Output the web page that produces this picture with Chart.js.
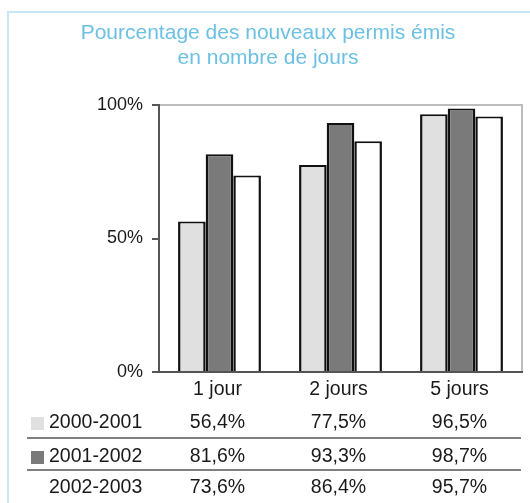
<!DOCTYPE html>
<html>
<head>
<meta charset="utf-8">
<script src="https://cdn.jsdelivr.net/npm/chart.js@4"></script>
<style>
    body { margin: 0; background: #fff; }
    canvas { display: block; }
</style>
</head>
<body>
<canvas id="chart" width="530" height="503"></canvas>
<script>
const titleLines = ['Pourcentage des nouveaux permis émis', 'en nombre de jours'];
const categories = ['1 jour', '2 jours', '5 jours'];
const periods = ['2000-2001', '2001-2002', '2002-2003'];
const values2000 = [56.4, 77.5, 96.5];
const values2001 = [81.6, 93.3, 98.7];
const values2002 = [73.6, 86.4, 95.7];
const yTicks = [0, 50, 100];

const fontFamily = '"Liberation Sans", Arial, sans-serif';
const colors = ['#e0e0e0', '#7a7a7a', '#ffffff'];
const rowY = [423, 457, 488];

function fmt(v) {
    return v.toFixed(1).replace('.', ',') + '%';
}

// title, outer frame, light top/right plot border, and the data table under the axis
const extras = {
    id: 'extras',
    beforeDraw(chart) {
        const ctx = chart.ctx;
        const area = chart.chartArea;
        ctx.save();
        ctx.strokeStyle = '#c8e6f5';
        ctx.lineWidth = 2;
        ctx.strokeRect(8, 12, 540, 500);

        ctx.fillStyle = '#6cc0e2';
        ctx.font = '21px ' + fontFamily;
        ctx.textAlign = 'center';
        ctx.textBaseline = 'middle';
        ctx.fillText(titleLines[0], 268, 33);
        ctx.fillText(titleLines[1], 268, 58);

        ctx.strokeStyle = '#bdbdbd';
        ctx.lineWidth = 2;
        ctx.beginPath();
        ctx.moveTo(area.left, area.top);
        ctx.lineTo(area.right, area.top);
        ctx.lineTo(area.right, area.bottom);
        ctx.stroke();
        ctx.restore();
    },
    afterDraw(chart) {
        const ctx = chart.ctx;
        const x = chart.scales.x;
        ctx.save();
        ctx.font = '19.5px ' + fontFamily;
        ctx.textBaseline = 'middle';
        chart.data.datasets.forEach((ds, i) => {
            const y = rowY[i];
            ctx.fillStyle = ds.backgroundColor;
            ctx.fillRect(31, y - 6, 13, 13);
            ctx.fillStyle = '#1a1a1a';
            ctx.textAlign = 'left';
            ctx.fillText(ds.label, 49, y);
            ctx.textAlign = 'center';
            ds.data.forEach((v, j) => {
                ctx.fillText(fmt(v), x.getPixelForValue(j) - 2, y);
            });
        });
        ctx.strokeStyle = '#555';
        ctx.lineWidth = 1.5;
        [438, 470].forEach(ly => {
            ctx.beginPath();
            ctx.moveTo(27, ly);
            ctx.lineTo(521, ly);
            ctx.stroke();
        });
        ctx.restore();
    }
};

const bar = {
    borderColor: '#111',
    borderWidth: { top: 2, left: 2.5, right: 2.5, bottom: 0 },
    borderSkipped: 'bottom',
    categoryPercentage: 0.685,
    barPercentage: 1
};

new Chart(document.getElementById('chart'), {
    type: 'bar',
    data: {
        labels: categories,
        datasets: [
            { label: periods[0], data: values2000, backgroundColor: colors[0], ...bar },
            { label: periods[1], data: values2001, backgroundColor: colors[1], ...bar },
            { label: periods[2], data: values2002, backgroundColor: colors[2], ...bar }
        ]
    },
    options: {
        responsive: false,
        animation: false,
        layout: { padding: { top: 105, left: 0, right: 8, bottom: 0 } },
        plugins: {
            legend: { display: false },
            title: { display: false },
            tooltip: { enabled: false }
        },
        scales: {
            x: {
                grid: { display: false, drawTicks: false },
                border: { display: true, color: '#555', width: 2 },
                ticks: {
                    color: '#1a1a1a',
                    font: { family: fontFamily, size: 19.5 },
                    padding: 6,
                    labelOffset: -2
                },
                afterFit(scale) { scale.height = 131; }
            },
            y: {
                min: 0,
                max: 100,
                afterBuildTicks(scale) { scale.ticks = yTicks.map(v => ({ value: v })); },
                grid: { drawOnChartArea: false, drawTicks: true, tickLength: 7, color: '#555', lineWidth: 2 },
                border: { display: true, color: '#555', width: 2 },
                ticks: {
                    color: '#1a1a1a',
                    font: { family: fontFamily, size: 18 },
                    padding: 9,
                    callback: v => v + '%'
                },
                afterFit(scale) { scale.width = 159; }
            }
        }
    },
    plugins: [extras]
});
</script>
</body>
</html>
